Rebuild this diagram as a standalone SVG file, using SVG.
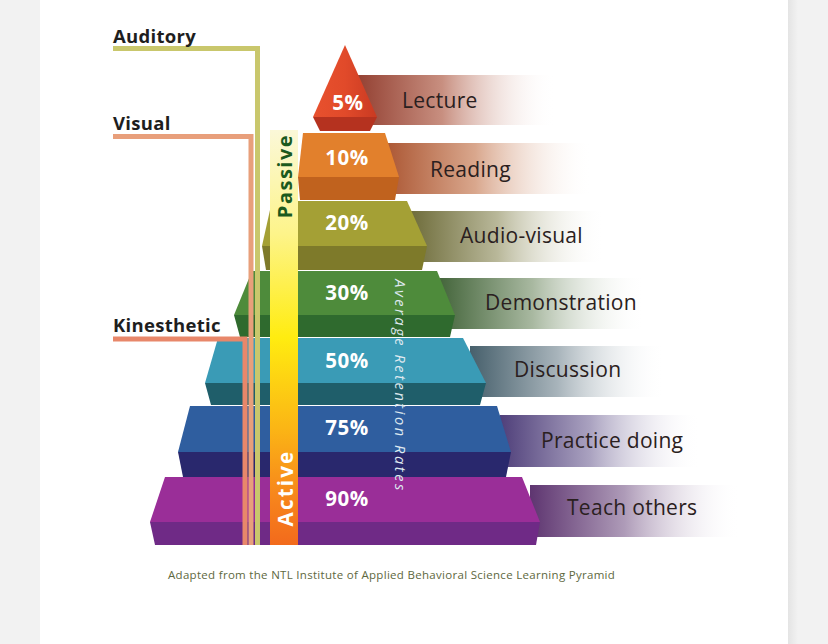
<svg xmlns="http://www.w3.org/2000/svg" width="828" height="644" viewBox="0 0 828 644">
<defs>
<linearGradient id="shadowR" x1="0" y1="0" x2="1" y2="0"><stop offset="0" stop-color="#e4e4e4"/><stop offset="1" stop-color="#f2f2f2"/></linearGradient>
<linearGradient id="bLecture" x1="0" y1="0" x2="1" y2="0"><stop offset="0" stop-color="#8f3a2c"/><stop offset="0.45" stop-color="#c88f80"/><stop offset="1" stop-color="#ffffff" stop-opacity="0"/></linearGradient>
<linearGradient id="bReading" x1="0" y1="0" x2="1" y2="0"><stop offset="0" stop-color="#a9522e"/><stop offset="0.45" stop-color="#d9a78d"/><stop offset="1" stop-color="#ffffff" stop-opacity="0"/></linearGradient>
<linearGradient id="bAudio" x1="0" y1="0" x2="1" y2="0"><stop offset="0" stop-color="#6e6c3a"/><stop offset="0.45" stop-color="#b9b89a"/><stop offset="1" stop-color="#ffffff" stop-opacity="0"/></linearGradient>
<linearGradient id="bDemo" x1="0" y1="0" x2="1" y2="0"><stop offset="0" stop-color="#45663c"/><stop offset="0.45" stop-color="#a8b8a0"/><stop offset="1" stop-color="#ffffff" stop-opacity="0"/></linearGradient>
<linearGradient id="bDisc" x1="0" y1="0" x2="1" y2="0"><stop offset="0" stop-color="#47606c"/><stop offset="0.45" stop-color="#a8b4bb"/><stop offset="1" stop-color="#ffffff" stop-opacity="0"/></linearGradient>
<linearGradient id="bPrac" x1="0" y1="0" x2="1" y2="0"><stop offset="0" stop-color="#4f3f7a"/><stop offset="0.45" stop-color="#aaa2c0"/><stop offset="1" stop-color="#ffffff" stop-opacity="0"/></linearGradient>
<linearGradient id="bTeach" x1="0" y1="0" x2="1" y2="0"><stop offset="0" stop-color="#5e3570"/><stop offset="0.45" stop-color="#ae9bb8"/><stop offset="1" stop-color="#ffffff" stop-opacity="0"/></linearGradient>
<linearGradient id="redG" x1="0" y1="0" x2="1" y2="0"><stop offset="0" stop-color="#e8512e"/><stop offset="0.5" stop-color="#e14a2a"/><stop offset="1" stop-color="#c93a22"/></linearGradient>
<linearGradient id="barG" x1="0" y1="0" x2="0" y2="1">
<stop offset="0" stop-color="#fbf8d8"/><stop offset="0.25" stop-color="#fdf48a"/><stop offset="0.5" stop-color="#ffec10"/><stop offset="0.72" stop-color="#fbb515"/><stop offset="0.88" stop-color="#f7861c"/><stop offset="1" stop-color="#f26a1c"/>
</linearGradient>
</defs>
<style>
.lbl{font-family:"Open Sans","Liberation Sans",sans-serif;font-size:21px;fill:#2a2020;letter-spacing:0.3px}
.pct{font-family:"Open Sans","Liberation Sans",sans-serif;font-size:20.5px;font-weight:bold;fill:#ffffff;text-anchor:middle;letter-spacing:0.6px}
.side{font-family:"Open Sans","Liberation Sans",sans-serif;font-size:18.5px;font-weight:bold;fill:#1e1e1e;letter-spacing:0.3px}
.ln{fill:none;stroke-width:5}
</style>
<rect x="0" y="0" width="828" height="644" fill="#f2f2f2"/>
<rect x="40" y="0" width="748" height="644" fill="#ffffff"/>
<rect x="788" y="0" width="10" height="644" fill="url(#shadowR)"/>

<g id="bands">
<rect x="350" y="75" width="205" height="50" fill="url(#bLecture)"/>
<rect x="380" y="143" width="212" height="51" fill="url(#bReading)"/>
<rect x="410" y="211" width="195" height="51" fill="url(#bAudio)"/>
<rect x="440" y="278" width="205" height="51" fill="url(#bDemo)"/>
<rect x="470" y="346" width="195" height="51" fill="url(#bDisc)"/>
<rect x="500" y="415" width="200" height="52" fill="url(#bPrac)"/>
<rect x="530" y="485" width="210" height="52" fill="url(#bTeach)"/>
</g>

<g id="tier-90">
<polygon points="165,477 522,477 540,522 150,522" fill="#9a2e98"/>
<polygon points="150,522 540,522 536,545 155,545" fill="#6f2a86"/>
<text class="pct" x="347" y="506">90%</text>
<text class="lbl" x="567" y="515">Teach others</text>
</g>
<g id="tier-75">
<polygon points="190,406 497,406 511,452 178,452" fill="#2f5e9f"/>
<polygon points="178,452 511,452 506,477 183,477" fill="#29286d"/>
<text class="pct" x="347" y="435">75%</text>
<text class="lbl" x="541" y="448">Practice doing</text>
</g>
<g id="tier-50">
<polygon points="218,338 463,338 486,383 205,383" fill="#3a9bb6"/>
<polygon points="205,383 486,383 480,405 211,405" fill="#1f5e6a"/>
<text class="pct" x="347" y="368">50%</text>
<text class="lbl" x="514" y="377">Discussion</text>
</g>
<g id="tier-30">
<polygon points="252,271 437,271 455,315 234,315" fill="#4e8b3b"/>
<polygon points="234,315 455,315 450,337 240,337" fill="#2f6a2e"/>
<text class="pct" x="347" y="300">30%</text>
<text class="lbl" x="485" y="310">Demonstration</text>
</g>
<g id="tier-20">
<polygon points="272,201 407,201 427,246 262,246" fill="#a4a035"/>
<polygon points="262,246 427,246 422,270 266,270" fill="#7e7a2a"/>
<text class="pct" x="347" y="230">20%</text>
<text class="lbl" x="460" y="243">Audio-visual</text>
</g>
<g id="tier-10">
<polygon points="303,133 385,133 399,177 298,177" fill="#e2802c"/>
<polygon points="298,177 399,177 395,200 300,200" fill="#c0621e"/>
<text class="pct" x="347" y="165">10%</text>
<text class="lbl" x="430" y="177">Reading</text>
</g>
<g id="tier-5">
<polygon points="345,45 377,117 313,117" fill="url(#redG)"/>
<polygon points="313,117 377,117 370,131 320,131" fill="#b5321f"/>
<text class="pct" x="348" y="110">5%</text>
<text class="lbl" x="402" y="108">Lecture</text>
</g>

<g id="connectors">
<polyline class="ln" stroke="#c9c76c" points="113,48.5 257.5,48.5 257.5,545"/>
<polyline class="ln" stroke="#e89f7b" points="113,136.5 251,136.5 251,545"/>
<polyline class="ln" stroke="#e8876a" points="113,339 245,339 245,545"/>
</g>

<g id="auditory"><text class="side" x="113" y="43">Auditory</text></g>
<g id="visual"><text class="side" x="113" y="130">Visual</text></g>
<g id="kinesthetic"><text class="side" x="113" y="332">Kinesthetic</text></g>

<g id="scale-bar">
<rect x="270" y="130" width="28" height="415" fill="url(#barG)"/>
<text x="0" y="0" transform="translate(291.5,176) rotate(-90)" font-family="Open Sans, Liberation Sans, sans-serif" font-size="20" font-weight="bold" fill="#1b5a1e" text-anchor="middle" letter-spacing="1.5">Passive</text>
<text x="0" y="0" transform="translate(292.5,488) rotate(-90)" font-family="Open Sans, Liberation Sans, sans-serif" font-size="20.5" font-weight="bold" fill="#ffffff" text-anchor="middle" letter-spacing="2.2">Active</text>
</g>

<g id="axis-label">
<text x="0" y="0" transform="translate(395,386) rotate(90)" font-family="Open Sans, Liberation Sans, sans-serif" font-size="14.5" font-style="italic" fill="#dfe9f0" text-anchor="middle" letter-spacing="2.6">Average Retention Rates</text>
</g>

<g id="caption">
<text x="168" y="579" font-family="Open Sans, Liberation Sans, sans-serif" font-size="11.5" fill="#5e6840" letter-spacing="0.3">Adapted from the NTL Institute of Applied Behavioral Science Learning Pyramid</text>
</g>
</svg>
